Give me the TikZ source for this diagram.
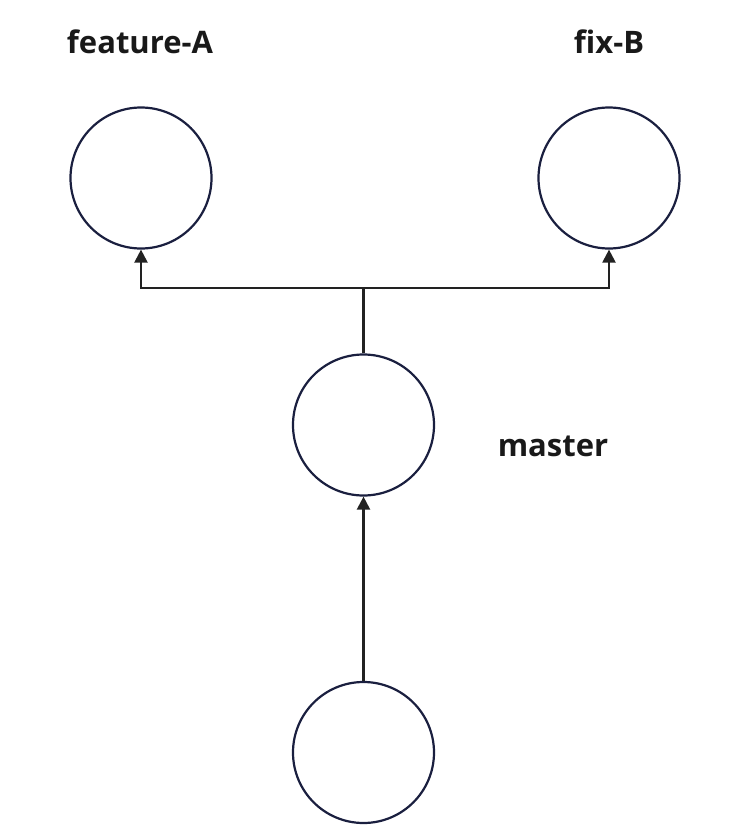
\documentclass[tikz,border=0pt]{standalone}
\usepackage{fontspec}
\setmainfont{Open Sans}[BoldFont={Open Sans Bold}]
\usetikzlibrary{arrows.meta}
\definecolor{ring}{HTML}{1A1F3F}
\definecolor{wire}{HTML}{222222}
\begin{document}
\begin{tikzpicture}[x=1pt,y=-1pt,
  commit/.style={circle,draw=ring,line width=2.2pt,minimum size=141pt,inner sep=0pt},
  lbl/.style={font=\bfseries\fontsize{31}{36}\selectfont,text=black!90,inner sep=0pt},
  link/.style={draw=wire,line width=2.2pt},
  arr/.style={link,-{Triangle[width=13pt,length=13pt]}}]
\useasboundingbox (0,0) rectangle (751,825);
\node[commit] (fa) at (141,178) {};
\node[commit] (fb) at (609,178) {};
\node[commit] (m) at (363.5,425) {};
\node[commit] (b) at (363.5,752.5) {};
\node[lbl] (tfa) at (140,42) {feature-A};
\node[lbl] (tfb) at (609,42) {fix-B};
\node[lbl] (tm) at (553,446) {master};
\coordinate (j) at (363.5,288);
\draw[link] (m.north) -- (j);
\draw[arr] (j) -| (fa.south);
\draw[arr] (j) -| (fb.south);
\draw[arr] (b.north) -- (m.south);
\end{tikzpicture}
\end{document}
